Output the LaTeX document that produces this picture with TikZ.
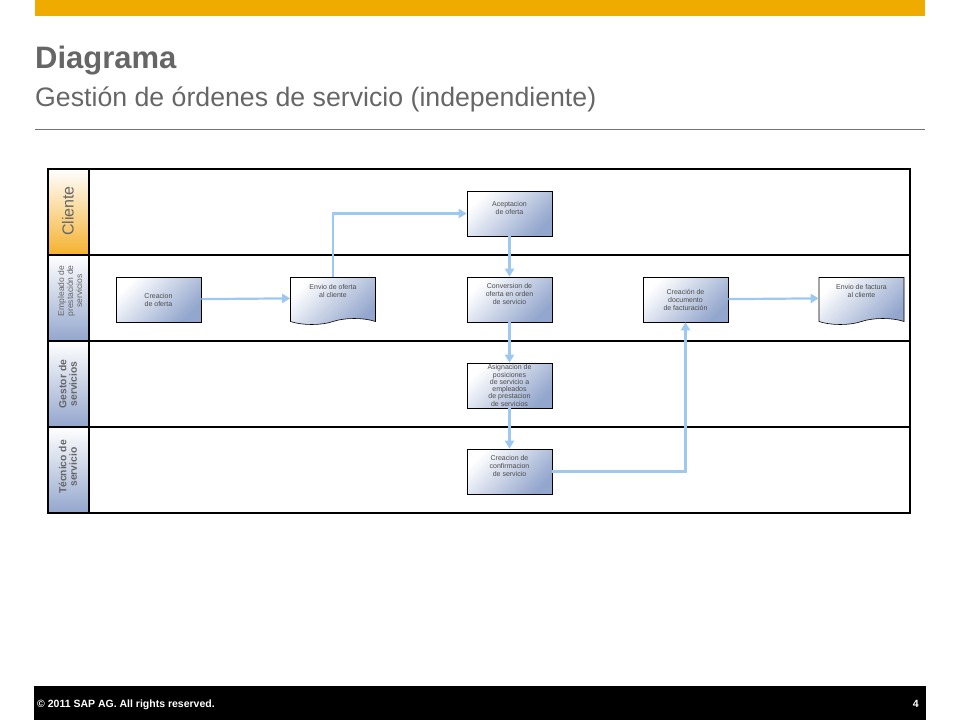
\documentclass[tikz,border=0pt]{standalone}
\usepackage{fontspec}
\setmainfont{Liberation Sans}
\usetikzlibrary{shapes.symbols,arrows.meta,positioning}

\definecolor{sapgold}{HTML}{F0AB00}
\definecolor{titlegray}{HTML}{666666}
\definecolor{lanegold}{HTML}{F5B12E}
\definecolor{boxblue}{HTML}{93A6CD}
\definecolor{flowblue}{HTML}{9CC8F2}

\tikzset{
  task/.style={draw=black, line width=0.6pt, minimum width=85pt, minimum height=45pt,
    inner sep=1pt, align=center, text=black!70,
    font=\fontsize{7}{8}\selectfont,
    top color=white, bottom color=boxblue, shading angle=45},
  docbox/.style={task, tape, tape bend top=none, tape bend height=6pt, minimum height=47pt},
  flow/.style={draw=flowblue, line width=2.2pt, -{Triangle[length=8pt,width=9pt]}},
  lanetext/.style={rotate=90, align=center, text=titlegray, inner sep=0pt},
}

\begin{document}
\begin{tikzpicture}[x=1pt,y=-1pt]
  \useasboundingbox (0,0) rectangle (960,720);

  % slide frame
  \fill [color=sapgold] (35,0) rectangle (925,16);
  \node [anchor=base west, inner sep=0pt, text=titlegray,
    font=\fontsize{31}{36}\bfseries] (title) at (35,68) {Diagrama};
  \node [anchor=base west, inner sep=0pt, text=titlegray,
    font=\fontsize{26.7}{30}\selectfont] (subtitle) at (35,106)
    {Gestión de órdenes de servicio (independiente)};
  \draw [color=black!55, line width=1pt] (35,129) -- (925,129);
  \fill [color=black] (34,686) rectangle (926,720);
  \node [anchor=base west, inner sep=0pt, text=white,
    font=\fontsize{10.5}{12}\bfseries] (copy) at (37,707) {© 2011 SAP AG. All rights reserved.};
  \node [anchor=base east, inner sep=0pt, text=white,
    font=\fontsize{10.5}{12}\bfseries] (page) at (919,707) {4};

  % lanes
  \begin{scope}
    \shade [top color=white, bottom color=lanegold] (48,169) rectangle (89,255);
    \shade [top color=white, bottom color=boxblue] (48,255) rectangle (89,341);
    \shade [top color=white, bottom color=boxblue] (48,341) rectangle (89,427);
    \shade [top color=white, bottom color=boxblue] (48,427) rectangle (89,513);

    \draw [line width=2pt] (48,169) rectangle (910,513);
    \draw [line width=2pt] (89,169) -- (89,513);
    \draw [line width=2pt] (48,255) -- (910,255);
    \draw [line width=2pt] (48,341) -- (910,341);
    \draw [line width=2pt] (48,427) -- (910,427);

    \node [lanetext, font=\fontsize{16}{18}\selectfont] (cliente) at (68,211) {Cliente};
    \node [lanetext, font=\fontsize{8.5}{6.5}\selectfont] (empleado) at (70,291)
      {Empleado de\\prestación de\\servicios};
    \node [lanetext, font=\fontsize{10.3}{10.5}\bfseries] (gestor) at (68,384)
      {Gestor de\\servicios};
    \node [lanetext, font=\fontsize{10.3}{10.5}\bfseries] (tecnico) at (68,467)
      {Técnico de\\servicio};
  \end{scope}

  % tasks
  \node [task] (oferta) at (158.5,299.5) {Creacion\\de oferta};
  \node [docbox] (envio) at (333,298) {Envio de oferta\\al cliente\\[6pt]};
  \node [task] (acepta) at (509.5,213.5) {Aceptacion\\de oferta\\[4pt]};
  \node [task] (conver) at (509.5,299.5) {Conversion de\\oferta en orden\\de servicio\\[4pt]};
  \node [task, font=\fontsize{7}{5}\selectfont] (asigna) at (509.5,385.5)
    {Asignacion de\\posiciones\\de servicio  a\\empleados\\de prestacion\\de servicios};
  \node [task] (confirma) at (509.5,471.5) {Creacion de\\confirmacion\\de servicio\\[4pt]};
  \node [task] (factdoc) at (685.5,299.5) {Creación de\\documento\\de facturación};
  \node [docbox] (envfact) at (861.5,298) {Envio de factura\\al cliente\\[6pt]};

  % flows
  \draw [flow] (oferta) -- (envio);
  \draw [flow] (envio.north) |- (acepta.west);
  \draw [flow] (acepta) -- (conver);
  \draw [flow] (conver) -- (asigna);
  \draw [flow] (asigna) -- (confirma);
  \draw [flow] (confirma.east) -| (factdoc.south);
  \draw [flow] (factdoc) -- (envfact);
\end{tikzpicture}
\end{document}
